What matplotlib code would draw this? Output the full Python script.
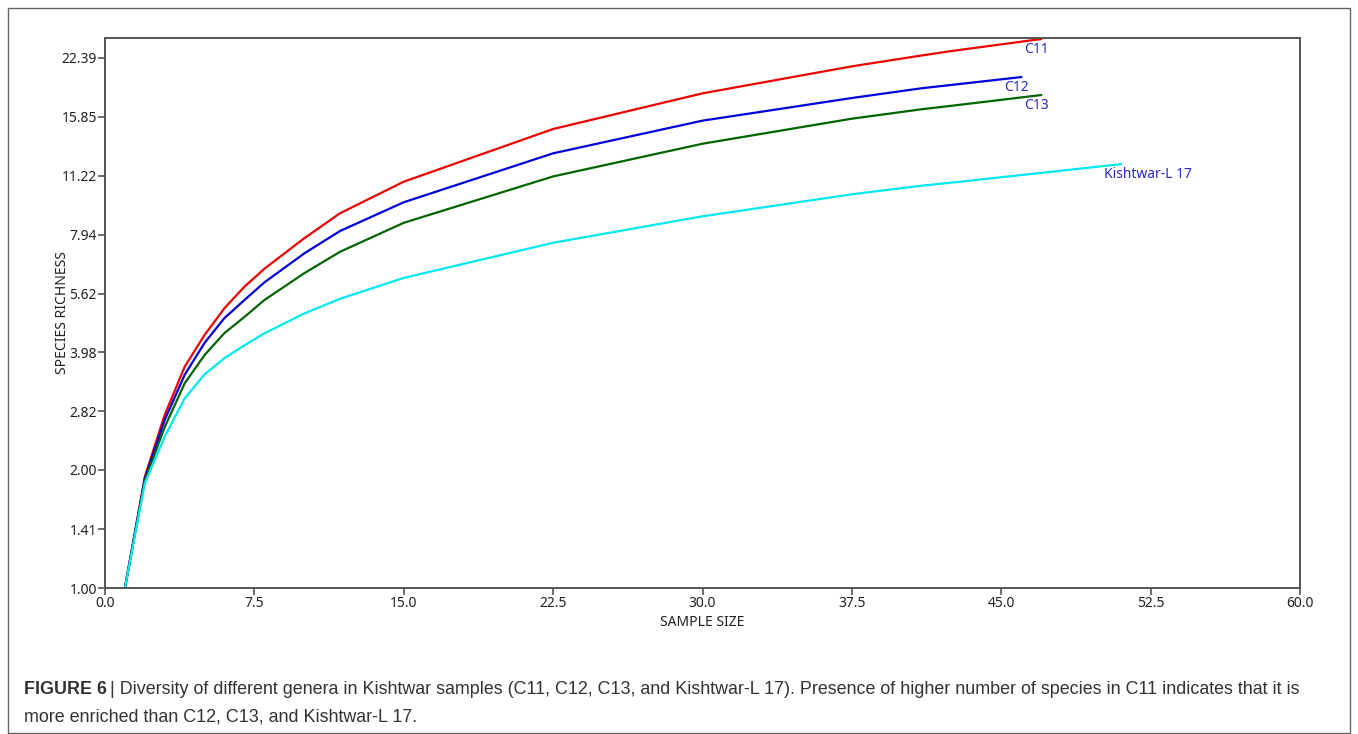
import matplotlib
matplotlib.use("Agg")
import matplotlib.pyplot as plt
from matplotlib.patches import Rectangle

# --- data ---
x_c11 = [1, 2, 3, 4, 5, 6, 7, 8, 10, 11.8, 15, 22.5, 30, 37.5, 41, 42.5, 47]
c11 = [1.0, 1.92, 2.76, 3.66, 4.41, 5.16, 5.85, 6.50, 7.77, 9.0, 10.83, 14.75, 18.18, 21.3, 22.7, 23.3, 25.0]

x_c12 = [1, 2, 3, 4, 5, 6, 7, 8, 10, 11.8, 15, 22.5, 30, 37.5, 41, 42.5, 46]
c12 = [1.0, 1.90, 2.68, 3.49, 4.21, 4.87, 5.41, 6.00, 7.11, 8.11, 9.6, 12.79, 15.49, 17.69, 18.73, 19.1, 20.0]

x_c13 = [1, 2, 3, 4, 5, 6, 7, 8, 10, 11.8, 15, 22.5, 30, 37.5, 41, 42.5, 47]
c13 = [1.0, 1.88, 2.57, 3.32, 3.92, 4.46, 4.90, 5.41, 6.33, 7.18, 8.51, 11.17, 13.53, 15.67, 16.56, 16.9, 18.0]

x_k17 = [1, 2, 3, 4, 5, 6, 7, 8, 10, 11.8, 15, 22.5, 30, 37.5, 41, 42.5, 51]
k17 = [1.0, 1.85, 2.43, 3.04, 3.50, 3.85, 4.15, 4.45, 5.0, 5.45, 6.16, 7.57, 8.84, 10.06, 10.58, 10.77, 12.0]

series = [
    ("C11", x_c11, c11, "#ee0000"),
    ("C12", x_c12, c12, "#0000dd"),
    ("C13", x_c13, c13, "#006400"),
    ("Kishtwar-L 17", x_k17, k17, "#00e8f0"),
]

y_ticks = [1.00, 1.41, 2.00, 2.82, 3.98, 5.62, 7.94, 11.22, 15.85, 22.39]
x_ticks = [0.0, 7.5, 15.0, 22.5, 30.0, 37.5, 45.0, 52.5, 60.0]

W, H = 1358, 734
fig = plt.figure(figsize=(W / 100, H / 100), dpi=100)
plt.rcParams['font.family'] = ['Noto Sans', 'DejaVu Sans']

# outer frame of the figure panel
fig.add_artist(Rectangle((8 / W, 1 / H), (1350 - 8) / W, (726 - 1) / H,
                         transform=fig.transFigure, fill=False,
                         edgecolor="#666666", linewidth=1.0))

ax = fig.add_axes([105 / W, (H - 588) / H, (1300 - 105) / W, (588 - 38) / H])

for name, xs, ys, col in series:
    ax.plot(xs, ys, color=col, linewidth=1.6, solid_joinstyle='round')
    ax.annotate(name, xy=(xs[-1], ys[-1]), xytext=(-17, -3),
                textcoords='offset pixels', ha='left', va='top',
                fontsize=10, color='#2a2ac8')

ax.set_yscale('log')
ax.set_xlim(0, 60)
ax.set_ylim(1.0, 25.15)
ax.set_yticks(y_ticks)
ax.set_yticklabels([f"{v:.2f}" for v in y_ticks])
ax.yaxis.set_minor_locator(matplotlib.ticker.NullLocator())
ax.set_xticks(x_ticks)
ax.set_xticklabels([f"{v:.1f}" for v in x_ticks])

for s in ax.spines.values():
    s.set_color('#555555')
    s.set_linewidth(1.4)
ax.tick_params(direction='out', length=5, width=1.2, color='#555555',
               labelsize=10, labelcolor='#222222', pad=1)

ax.set_xlabel("SAMPLE SIZE", fontsize=10, color='#222222', labelpad=3)
ax.set_ylabel("SPECIES RICHNESS", fontsize=10, color='#222222', labelpad=-6)

# caption
cap_font = dict(family=['Liberation Sans', 'DejaVu Sans'], fontsize=12.9, color='#333333')
t1 = fig.text(24 / W, 1 - 690 / H, "FIGURE 6", fontweight='bold', va='center', **cap_font)
fig.canvas.draw()
bb = t1.get_window_extent()
fig.text((bb.x1 + 3) / W, 1 - 690 / H,
         "| Diversity of different genera in Kishtwar samples (C11, C12, C13, and Kishtwar-L 17). "
         "Presence of higher number of species in C11 indicates that it is",
         va='center', **cap_font)
fig.text(24 / W, 1 - 717 / H, "more enriched than C12, C13, and Kishtwar-L 17.",
         va='center', **cap_font)

fig.savefig("out.png", dpi=100)
